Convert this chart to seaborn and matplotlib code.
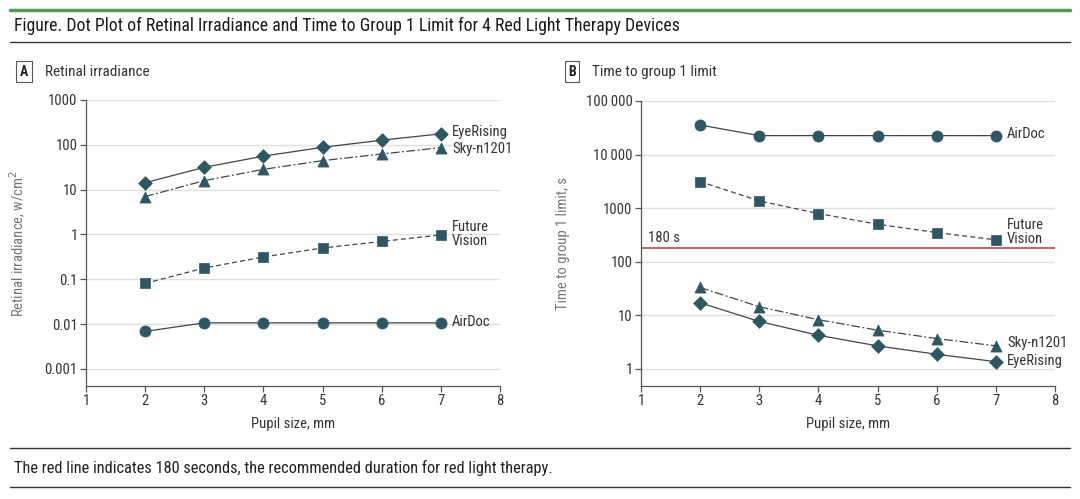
import numpy as np
import pandas as pd
import seaborn as sns
import matplotlib.pyplot as plt
from matplotlib.lines import Line2D
from matplotlib.ticker import FixedLocator, FixedFormatter, NullLocator

pupil = [2, 3, 4, 5, 6, 7]

# panel A: retinal irradiance, w/cm2
irr_eyerising = [14.3, 31.5, 56, 88, 127, 176]
irr_sky = [7.0, 15.9, 28.4, 44.4, 62.5, 86.5]
irr_future = [0.081, 0.179, 0.315, 0.50, 0.70, 0.98]
irr_airdoc = [0.0069, 0.0107, 0.0107, 0.0107, 0.0107, 0.0107]

# panel B: time to group 1 limit, s
t_airdoc = [35600, 22600, 22600, 22600, 22600, 22600]
t_future = [3130, 1370, 794, 502, 351, 257]
t_sky = [33.2, 14.5, 8.3, 5.3, 3.7, 2.7]
t_eyerising = [17.2, 7.7, 4.25, 2.7, 1.88, 1.37]

limit_s = 180

yticks_a = [1000, 100, 10, 1, 0.1, 0.01, 0.001]
ylabels_a = ['1000', '100', '10', '1', '0.1', '0.01', '0.001']
yticks_b = [100000, 10000, 1000, 100, 10, 1]
ylabels_b = ['100\u2009000', '10\u2009000', '1000', '100', '10', '1']

sns.set_theme(style='white')
plt.rcParams['font.family'] = ['Roboto Condensed', 'Roboto', 'DejaVu Sans']

dark = '#2e5663'
line_c = '#444444'
txt = '#333333'

fig = plt.figure(figsize=(10.8, 4.99), dpi=100)
ax1 = fig.add_axes([0.0796, 0.2265, 0.3834, 0.5731])
ax2 = fig.add_axes([0.5935, 0.2265, 0.3834, 0.5711])

styles = {
    'EyeRising': dict(marker='D', ls='-', ms=7),
    'Sky-n1201': dict(marker='^', ls=(0, (7, 2, 1.5, 2)), ms=8),
    'Future Vision': dict(marker='s', ls=(0, (4, 2.5)), ms=7),
    'AirDoc': dict(marker='o', ls='-', ms=8),
}


def draw(ax, name, vals):
    st = styles[name]
    sns.lineplot(x=pupil, y=vals, ax=ax, color=line_c, lw=0.9, linestyle=st['ls'],
                 legend=False)
    sns.scatterplot(x=pupil, y=vals, ax=ax, marker=st['marker'], s=st['ms'] ** 2,
                    color=dark, edgecolor=dark, linewidth=0.5, zorder=3, legend=False)


draw(ax1, 'EyeRising', irr_eyerising)
draw(ax1, 'Sky-n1201', irr_sky)
draw(ax1, 'Future Vision', irr_future)
draw(ax1, 'AirDoc', irr_airdoc)

draw(ax2, 'AirDoc', t_airdoc)
draw(ax2, 'Future Vision', t_future)
draw(ax2, 'Sky-n1201', t_sky)
draw(ax2, 'EyeRising', t_eyerising)
ax2.axhline(limit_s, color='#c0464f', lw=1.2, zorder=2)
ax2.text(1.12, limit_s * 1.12, '180 s', fontsize=10.5, color=txt, va='bottom', ha='left')

lab = dict(fontsize=10.5, color=txt, ha='left', va='center')
ax1.text(7.19, 193, 'EyeRising', **lab)
ax1.text(7.19, 81, 'Sky-n1201', **lab)
ax1.text(7.19, 1.02, 'Future\nVision', linespacing=1.05, **lab)
ax1.text(7.19, 0.0112, 'AirDoc', **lab)

ax2.text(7.19, 24200, 'AirDoc', **lab)
ax2.text(7.19, 360, 'Future\nVision', linespacing=1.05, **lab)
ax2.text(7.19, 3.06, 'Sky-n1201', **lab)
ax2.text(7.19, 1.41, 'EyeRising', **lab)

for ax, ticks, labels, lo, hi, ylab, lx in [
    (ax1, yticks_a, ylabels_a, 10 ** -3.379, 1000, 'Retinal irradiance, w/cm$^2$', -0.140),
    (ax2, yticks_b, ylabels_b, 10 ** -0.317, 100000, 'Time to group 1 limit, s', -0.171),
]:
    ax.set_yscale('log')
    ax.set_ylim(lo, hi)
    ax.set_xlim(1, 8)
    ax.set_xticks(range(1, 9))
    ax.yaxis.set_major_locator(FixedLocator(ticks))
    ax.yaxis.set_major_formatter(FixedFormatter(labels))
    ax.yaxis.set_minor_locator(NullLocator())
    for t in ticks:
        ax.axhline(t, color='#e0e0e0', lw=1.0, zorder=0)
    for s in ['top', 'right']:
        ax.spines[s].set_visible(False)
    for s in ['left', 'bottom']:
        ax.spines[s].set_color('#555555')
        ax.spines[s].set_linewidth(0.9)
    ax.tick_params(axis='both', which='major', direction='out', length=4, width=0.9,
                   color='#555555', labelsize=10.5, labelcolor=txt, pad=2,
                   left=True, bottom=True)
    ax.set_xlabel('Pupil size, mm', fontsize=10.5, color=txt, labelpad=6)
    ax.set_ylabel(ylab, fontsize=10.5, color='#777777')
    ax.yaxis.set_label_coords(lx, 0.5)
    ax.grid(False)

# figure header / footer
fig.add_artist(Line2D([0.009, 0.991], [0.98, 0.98], color='#4f9a4f', lw=2.5))
fig.text(0.013, 0.948, 'Figure. Dot Plot of Retinal Irradiance and Time to Group 1 Limit for 4 Red Light Therapy Devices',
         fontsize=12.8, color='#1a1a1a', va='center', ha='left')
fig.add_artist(Line2D([0.009, 0.991], [0.916, 0.916], color='#333333', lw=1.0))

box = dict(boxstyle='square,pad=0.25', fc='white', ec='#555555', lw=0.8)
fig.text(0.0222, 0.856, 'A', fontsize=10, fontweight='bold', color='#222222', va='center', ha='center', bbox=box)
fig.text(0.0417, 0.856, 'Retinal irradiance', fontsize=11, color=txt, va='center', ha='left')
fig.text(0.5296, 0.856, 'B', fontsize=10, fontweight='bold', color='#222222', va='center', ha='center', bbox=box)
fig.text(0.548, 0.856, 'Time to group 1 limit', fontsize=11, color=txt, va='center', ha='left')

fig.add_artist(Line2D([0.009, 0.991], [0.102, 0.102], color='#333333', lw=1.0))
fig.text(0.013, 0.062, 'The red line indicates 180 seconds, the recommended duration for red light therapy.',
         fontsize=11.8, color='#222222', va='center', ha='left')
fig.add_artist(Line2D([0.009, 0.991], [0.024, 0.024], color='#333333', lw=1.0))

fig.savefig('out.png', dpi=100)
